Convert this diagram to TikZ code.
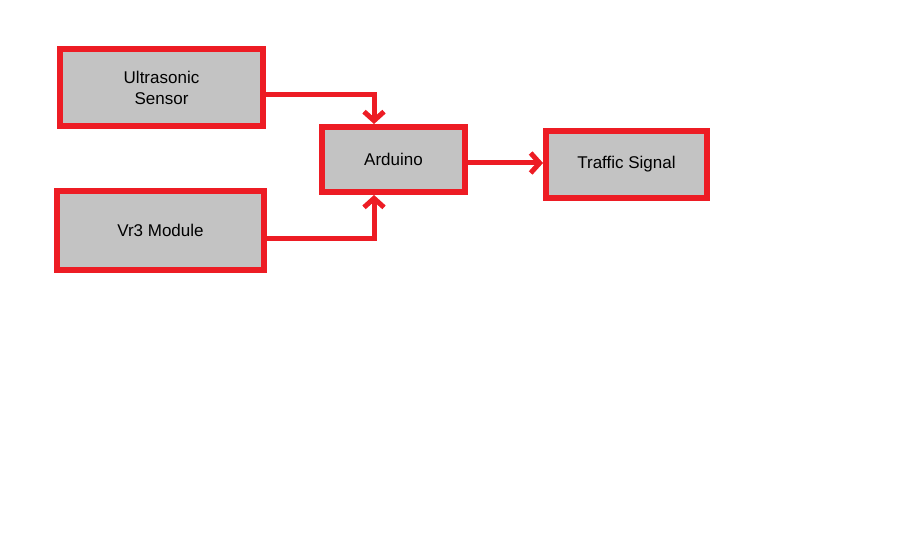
\documentclass[tikz,border=0pt]{standalone}
\usepackage{fontspec}
\setmainfont{Liberation Sans}
\usetikzlibrary{arrows.meta}
\definecolor{boxred}{HTML}{ED1C24}
\definecolor{boxgray}{HTML}{C3C3C3}
\begin{document}
\begin{tikzpicture}[x=1pt,y=-1pt,
  block/.style={draw=boxred,fill=boxgray,line width=6pt,align=center,inner sep=0pt,
    font=\fontsize{17}{21}\selectfont},
  link/.style={draw=boxred,line width=5pt,-{Straight Barb[length=9pt,width=20pt]}}]
\useasboundingbox (0,0) rectangle (909,540);
\node (sensor) at (161.5,87.5) [block,minimum width=203pt,minimum height=77pt] {Ultrasonic\\Sensor};
\node (voice) at (160.5,230.5) [block,minimum width=207pt,minimum height=79pt] {Vr3 Module};
\node (arduino) at (393.5,159.5) [block,minimum width=143pt,minimum height=65pt] {Arduino};
\node (signal) at (626.5,164.5) [block,minimum width=161pt,minimum height=67pt] {Traffic Signal};
\draw[link] (sensor.east |- 0,95) -| (arduino.north -| 374,0);
\draw[link] (voice.east |- 0,238) -| (arduino.south -| 374,0);
\draw[link] (arduino.east |- 0,163) -- (signal.west |- 0,163);
\end{tikzpicture}
\end{document}
